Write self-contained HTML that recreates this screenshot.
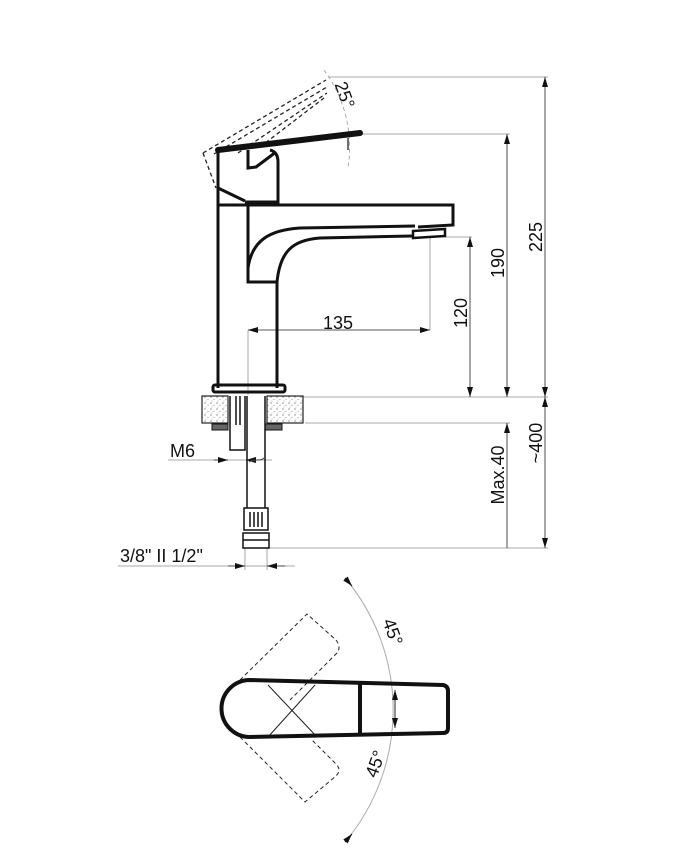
<!DOCTYPE html>
<html><head><meta charset="utf-8"><style>
html,body{margin:0;padding:0;background:#fff}
svg{display:block}
text{font-family:"Liberation Sans",sans-serif;fill:#111}
</style></head><body>
<svg width="674" height="857" viewBox="0 0 674 857" xmlns="http://www.w3.org/2000/svg">
<defs>
<marker id="a" viewBox="0 0 10 6" refX="10" refY="3" markerWidth="10" markerHeight="6" orient="auto-start-reverse" markerUnits="userSpaceOnUse"><path d="M0,0 L10,3 L0,6 z" fill="#111"/></marker>
<pattern id="st" width="6" height="6" patternUnits="userSpaceOnUse"><rect width="6" height="6" fill="#fff"/><circle cx="1" cy="1" r="0.6" fill="#555"/><circle cx="4" cy="3.5" r="0.5" fill="#777"/><circle cx="2" cy="5" r="0.4" fill="#666"/></pattern>
</defs>
<g stroke="#aaa" stroke-width="1" fill="none">
<line x1="328" y1="77" x2="548" y2="77"/>
<line x1="362" y1="134" x2="510" y2="134"/>
<line x1="432" y1="237" x2="472" y2="237"/>
<line x1="300" y1="397" x2="548" y2="397"/>
<line x1="305" y1="423" x2="510" y2="423"/>
<line x1="268" y1="548" x2="548" y2="548"/>
<line x1="248" y1="330" x2="248" y2="395"/>
<line x1="430" y1="237" x2="430" y2="330"/>
<line x1="168" y1="460" x2="272" y2="460"/>
<line x1="118" y1="566" x2="295" y2="566"/>
<line x1="245" y1="548" x2="245" y2="570"/>
<line x1="267" y1="548" x2="267" y2="570"/>
</g>
<g stroke="#222" stroke-width="0.8" fill="none">
<line x1="545" y1="77" x2="545" y2="397" marker-start="url(#a)" marker-end="url(#a)"/>
<line x1="545" y1="397" x2="545" y2="548" marker-start="url(#a)" marker-end="url(#a)"/>
<line x1="507" y1="134" x2="507" y2="397" marker-start="url(#a)" marker-end="url(#a)"/>
<line x1="507" y1="423" x2="507" y2="548" marker-start="url(#a)"/>
<line x1="470" y1="237" x2="470" y2="397" marker-start="url(#a)" marker-end="url(#a)"/>
<line x1="248" y1="330" x2="430" y2="330" marker-start="url(#a)" marker-end="url(#a)"/>
<line x1="214" y1="460" x2="228" y2="460" marker-end="url(#a)"/>
<line x1="260" y1="460" x2="246" y2="460" marker-end="url(#a)"/>
<line x1="228" y1="566" x2="245" y2="566" marker-end="url(#a)"/>
<line x1="285" y1="566" x2="267" y2="566" marker-end="url(#a)"/>
</g>
<text x="338" y="329" font-size="18" text-anchor="middle">135</text>
<text x="170" y="457" font-size="18">M6</text>
<text x="120" y="562" font-size="18">3/8" II 1/2"</text>
<text font-size="18" text-anchor="middle" transform="translate(542,237) rotate(-90)">225</text>
<text font-size="18" text-anchor="middle" transform="translate(504,263) rotate(-90)">190</text>
<text font-size="18" text-anchor="middle" transform="translate(467,313) rotate(-90)">120</text>
<text font-size="18" text-anchor="middle" transform="translate(504,475) rotate(-90)">Max.40</text>
<text font-size="18" text-anchor="middle" transform="translate(542,443) rotate(-90)">~400</text>
<text font-size="18" text-anchor="middle" transform="translate(339,97) rotate(70)">25°</text>
<path d="M324,70 A130,130 0 0 1 348,168" stroke="#999" stroke-width="0.8" stroke-dasharray="4,3" fill="none"/>
<g stroke="#222" stroke-width="1.3" fill="none" stroke-dasharray="4,3">
<path d="M203,153 L326,80 M214,154 L327,87 M238,153 L327,93 M260,147 L324,98"/>
<path d="M203,153 L216,188"/>
</g>
<g stroke="#111" stroke-width="3" fill="none" stroke-linejoin="miter">
<path d="M218,388 L218,150"/>
<path d="M218,188 L245,201"/>
<path d="M270,150 Q278,152 278,162 L278,205"/>
<path d="M248,150 L248,168 L256,167 L276,152"/>
<path d="M218,205 L453,205 L453,225 L418,227"/>
<path d="M248,205 L248,282 L277,282 L277,388"/>
<path d="M248,268 C252,240 270,230 300,228 L415,226"/>
<path d="M277,282 C280,252 292,240 320,238 L412,236"/>
<path d="M413,231 L445,229 L445,236 L413,238 z" stroke-width="2.5"/>
</g>
<line x1="245" y1="203" x2="278" y2="203" stroke="#111" stroke-width="5"/>
<path d="M218,150 L360,133" stroke="#111" stroke-width="6" stroke-linecap="round"/>
<line x1="348" y1="138" x2="348" y2="150" stroke="#111" stroke-width="1.2"/>
<rect x="213" y="385" width="72" height="7" rx="2" fill="none" stroke="#111" stroke-width="3"/>
<rect x="202" y="396" width="26" height="27" fill="url(#st)" stroke="#222" stroke-width="1.2"/>
<rect x="267" y="396" width="36" height="27" fill="url(#st)" stroke="#222" stroke-width="1.2"/>
<rect x="212" y="424" width="16" height="6" fill="#666" stroke="#111"/>
<rect x="265" y="424" width="17" height="6" fill="#666" stroke="#111"/>
<g stroke="#111" stroke-width="1.5" fill="none">
<path d="M230,396 L230,450 L245,450 L245,396"/>
<path d="M236,396 L236,425 M240,396 L240,425"/>
<path d="M247,396 L247,508 M265,396 L265,508"/>
<path d="M244,508 L268,508 L268,530 L244,530 z"/>
<path d="M250,512 L250,527 M254,512 L254,527 M258,512 L258,527 M262,512 L262,527"/>
<path d="M243,533 L269,533 L269,548 L243,548 z"/>
<path d="M243,540 L269,540"/>
</g>
<path d="M249,462 C255,458 260,462 264,458" stroke="#444" fill="none"/>
<path d="M345,578 A205,205 0 0 1 345,842" stroke="#aaa" stroke-width="1" fill="none"/>
<text font-size="18" text-anchor="middle" transform="translate(387,634) rotate(70)">45°</text>
<text font-size="18" text-anchor="middle" transform="translate(381,766) rotate(-70)">45°</text>
<g stroke="#222" stroke-width="1" fill="none" stroke-dasharray="4,3">
<path d="M240,680 L307,614 L336,640 Q342,648 336,654 L290,700"/>
<path d="M240,737 L305,802 L336,776 Q342,770 336,764 L312,740"/>
</g>
<g stroke="#222" stroke-width="1" fill="none">
<path d="M268,685 L317,737 M268,737 L315,685"/>
<line x1="395" y1="690" x2="395" y2="728" marker-start="url(#a)" marker-end="url(#a)"/>
<line x1="345" y1="578" x2="352" y2="586" marker-end="url(#a)"/>
<line x1="345" y1="842" x2="352" y2="834" marker-end="url(#a)"/>
</g>
<path d="M250,680 L443,685 Q448,686 448,691 L448,728 Q448,733 443,733 L250,737 A28.5,28.5 0 0 1 250,680 z" stroke="#111" stroke-width="4" fill="none"/>
<line x1="360" y1="683" x2="360" y2="735" stroke="#111" stroke-width="4"/>
</svg>
</body></html>
